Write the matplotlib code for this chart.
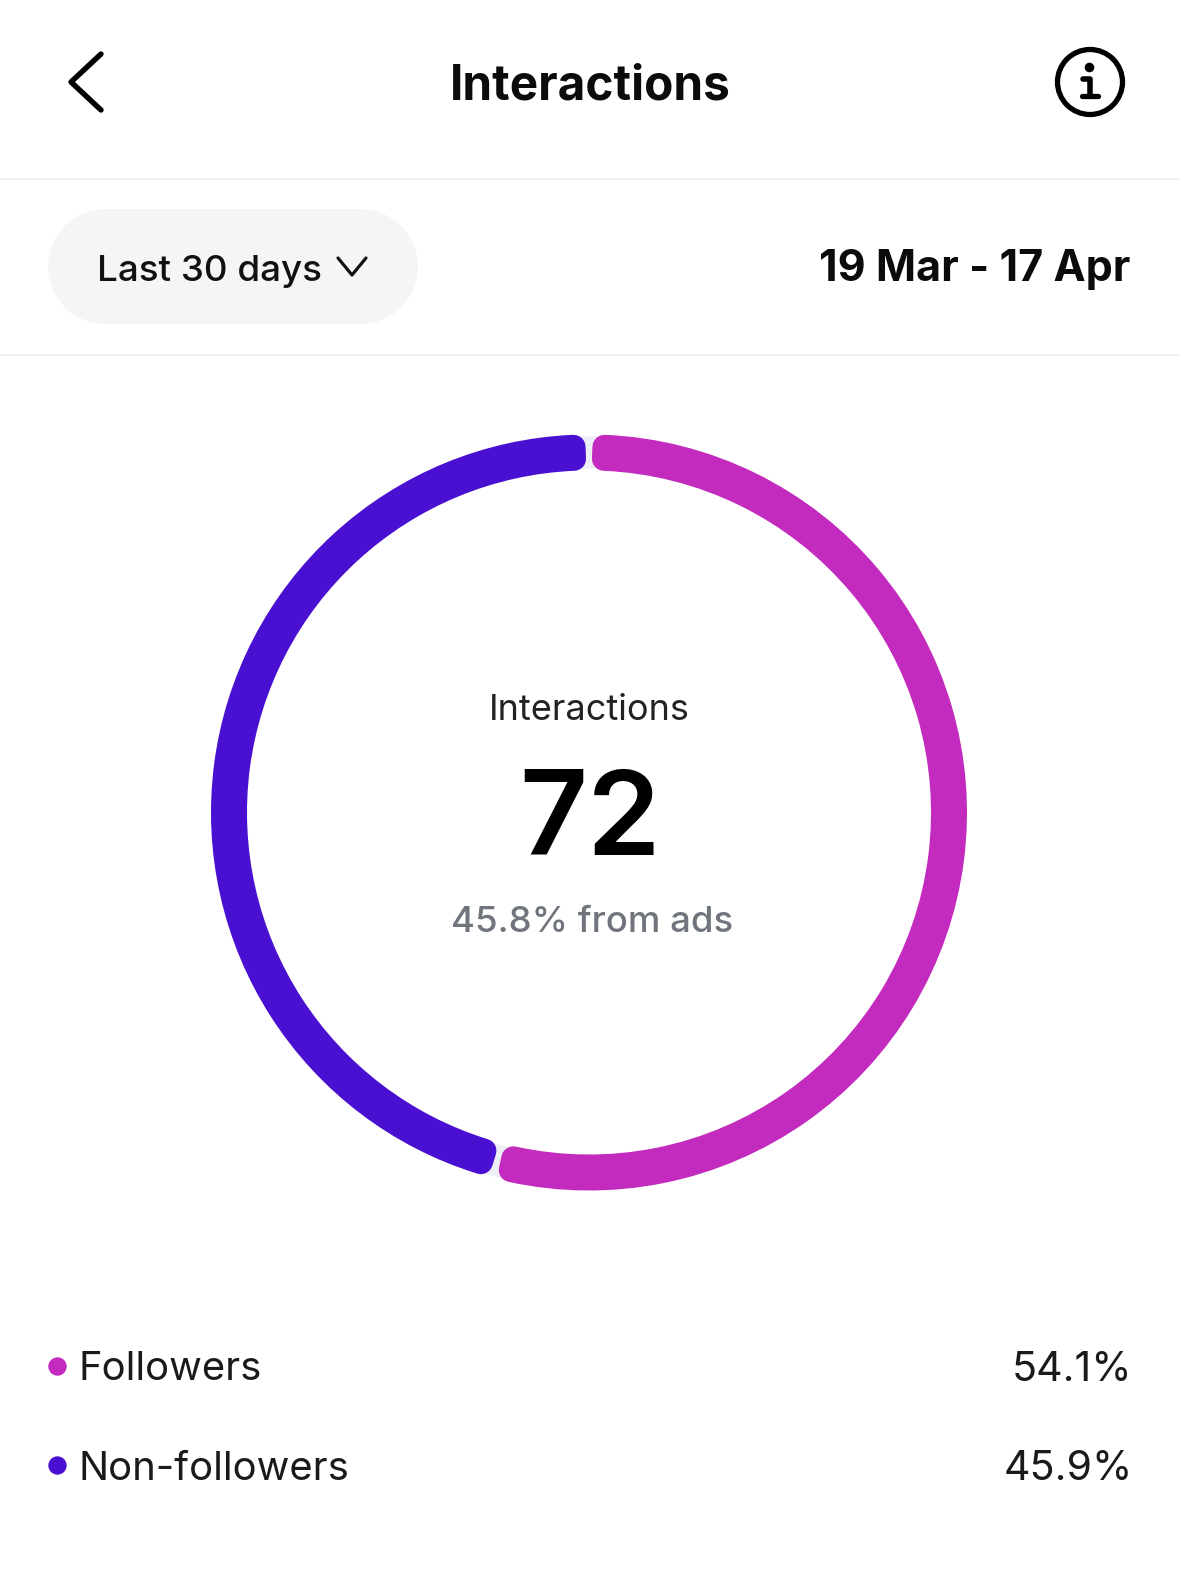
#!/usr/bin/env python3
# -*- coding: utf-8 -*-
"""
Interactions screen: donut of followers vs non-followers.
"""

import numpy as np
import matplotlib.pyplot as plt
from matplotlib.patches import Circle

plt.rcParams['font.family'] = ['Inter', 'DejaVu Sans']

W, H = 1179, 1592

categories = ['Followers', 'Non-followers']
shares = [54.1, 45.9]
share_labels = ['54.1%', '45.9%']
colors = ['#c22bbd', '#4a10d2']

title = 'Interactions'
period = 'Last 30 days'
date_range = '19 Mar - 17 Apr'
center_label = 'Interactions'
center_value = '72'
center_note = '45.8% from ads'


def Y(y):
    # screen pixels run downwards, the axes run upwards
    return H - y


def main():
    fig = plt.figure(figsize=(W / 100, H / 100), dpi=100, facecolor='white')
    ax = fig.add_axes([0, 0, 1, 1])

    cx, cy = 589, Y(812.5)
    r_out, ring = 378, 36
    corner = 12  # px, rounded corner of the segments
    lw = 2 * corner * 72 / 100

    # light track that shows through the gaps
    ax.pie([1], colors=['#eeeff5'], center=(cx, cy), radius=r_out - 2,
           wedgeprops=dict(width=ring - 4, linewidth=0))

    wedges, _ = ax.pie(shares, colors=colors, center=(cx, cy), radius=r_out - corner,
                       startangle=90, counterclock=False,
                       wedgeprops=dict(width=ring - 2 * corner, linewidth=lw, joinstyle='round'))
    pad = np.degrees((corner + 3.2) / (r_out - ring / 2))
    for w in wedges:
        w.set_edgecolor(w.get_facecolor())
        w.set_theta1(w.theta1 + pad)
        w.set_theta2(w.theta2 - pad)

    ax.set_xlim(0, W)
    ax.set_ylim(0, H)
    ax.set_aspect('auto')
    ax.axis('off')

    # header
    ax.plot([101, 71, 101], [Y(54), Y(82), Y(110)], color='black', lw=3.9,
            solid_capstyle='round', solid_joinstyle='round')
    ax.text(590, Y(81), title, ha='center', va='center_baseline', fontsize=34.4,
            fontweight='bold', color='#0b0b0b')
    ax.add_patch(Circle((1090, Y(82)), 32.5, fill=False, ec='black', lw=3.8))
    ax.scatter([1089], [Y(67)], s=48, color='black', linewidths=0, zorder=3)
    ax.plot([1083, 1090, 1090], [Y(79), Y(79), Y(95)], color='black', lw=4,
            solid_capstyle='round', solid_joinstyle='round')
    ax.plot([1082, 1098], [Y(96), Y(96)], color='black', lw=3.8, solid_capstyle='round')

    for sep in (179, 355):
        ax.plot([0, W], [Y(sep), Y(sep)], color='#eeeeee', lw=1.2)

    # period selector, a fat round capped line gives the full pill ends
    ax.plot([104.5, 359.5], [Y(265.5), Y(265.5)], color='#f3f5f7', lw=115 * 0.72,
            solid_capstyle='round')
    ax.text(97, Y(267.5), period, ha='left', va='center_baseline', fontsize=26.5,
            fontweight='medium', color='#111111')
    ax.plot([338, 352, 366], [Y(258), Y(275), Y(258)], color='#111111', lw=2.3,
            solid_capstyle='round', solid_joinstyle='round')
    ax.text(1130, Y(265), date_range, ha='right', va='center_baseline', fontsize=31,
            fontweight='bold', color='#0b0b0b')

    # middle of the donut
    ax.text(589.5, Y(707.5), center_label, ha='center', va='center_baseline', fontsize=26,
            color='#222222')
    ax.text(590, Y(812), center_value, ha='center', va='center_baseline', fontsize=85,
            fontweight='semibold', color='black')
    ax.text(592, Y(918.5), center_note, ha='center', va='center_baseline', fontsize=26.3,
            fontweight='medium', color='#70757d')

    # legend rows
    rows = [1366, 1465]
    for row, name, lab, col in zip(rows, categories, share_labels, colors):
        ax.scatter([57], [Y(row)], s=175, color=col, linewidths=0)
        ax.text(78.5, Y(row), name, ha='left', va='center_baseline', fontsize=28.8, color='#1a1a1a')
        ax.text(1132.5, Y(row), lab, ha='right', va='center_baseline', fontsize=29.6, color='#1a1a1a')

    fig.savefig('out.png', dpi=100, facecolor='white')


if __name__ == "__main__":
    main()
